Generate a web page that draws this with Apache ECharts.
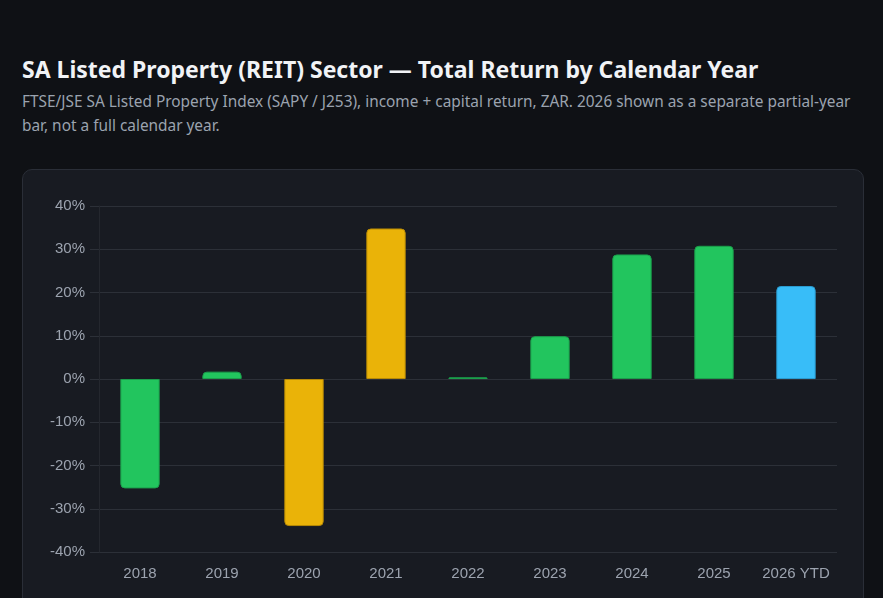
<!DOCTYPE html>
<html>
<head>
<meta charset="utf-8">
<script src="https://cdn.jsdelivr.net/npm/echarts@6/dist/echarts.min.js"></script>
<style>
  html, body { margin: 0; padding: 0; background: #0f1115; width: 883px; height: 598px; overflow: hidden; }
  body { position: relative; font-family: "Noto Sans", "Open Sans", sans-serif; }
  #title { position: absolute; left: 22px; top: 53px; font-size: 23px; line-height: 32px; font-weight: 700; color: #f1f3f6; white-space: nowrap; }
  #sub { position: absolute; left: 22px; top: 90px; width: 842px; font-size: 15.4px; line-height: 24px; color: #9ba3af; }
  #card { position: absolute; left: 22px; top: 169px; width: 842px; height: 460px; background: #181b22; border: 1px solid #2a2e37; border-radius: 10px; box-sizing: border-box; }
  #chart { position: absolute; left: 22px; top: 169px; width: 842px; height: 429px; }
</style>
</head>
<body>
<div id="title">SA Listed Property (REIT) Sector — Total Return by Calendar Year</div>
<div id="sub">FTSE/JSE SA Listed Property Index (SAPY / J253), income + capital return, ZAR. 2026 shown as a separate partial-year bar, not a full calendar year.</div>
<div id="card"></div>
<div id="chart"></div>
<script>
const categories = ['2018', '2019', '2020', '2021', '2022', '2023', '2024', '2025', '2026 YTD'];
const totalReturn = [-25.3, 1.7, -34.0, 34.8, 0.4, 9.9, 28.8, 30.8, 21.5];
const barGroup = ['normal', 'normal', 'highlight', 'highlight', 'normal', 'normal', 'normal', 'normal', 'ytd'];
const yTicks = { min: -40, max: 40, interval: 10 };

const palette = {
  normal: { color: '#22c55e', border: '#1b9e4b' },
  highlight: { color: '#eab308', border: '#b88a06' },
  ytd: { color: '#38bdf8', border: '#2a9bd0' }
};

const chart = echarts.init(document.getElementById('chart'), null, { renderer: 'canvas' });
const data = totalReturn.map((v, i) => {
  const p = palette[barGroup[i]];
  return {
    value: v,
    itemStyle: {
      color: p.color,
      borderColor: p.border,
      borderWidth: 1,
      borderRadius: v >= 0 ? [4, 4, 0, 0] : [0, 0, 4, 4]
    }
  };
});

chart.setOption({
  backgroundColor: 'transparent',
  animation: false,
  grid: { left: 77, right: 27, top: 37, bottom: 46, containLabel: false },
  xAxis: {
    type: 'category',
    data: categories,
    axisLine: { show: false },
    axisTick: { show: false },
    axisLabel: { color: '#9ca3af', fontSize: 15, fontFamily: 'Liberation Sans, Arial, sans-serif', margin: 14, interval: 0 },
    splitLine: { show: false }
  },
  yAxis: {
    type: 'value',
    min: yTicks.min,
    max: yTicks.max,
    interval: yTicks.interval,
    axisLine: { show: true, lineStyle: { color: '#24272e', width: 1 } },
    axisTick: { show: true, length: 9, lineStyle: { color: '#2c3038' } },
    axisLabel: { color: '#9ca3af', fontSize: 15, fontFamily: 'Liberation Sans, Arial, sans-serif', margin: 14, formatter: '{value}%' },
    splitLine: { show: true, lineStyle: { color: '#2c3038', width: 1 } }
  },
  series: [{
    type: 'bar',
    data: data,
    barWidth: '48%'
  }]
});
</script>
</body>
</html>
